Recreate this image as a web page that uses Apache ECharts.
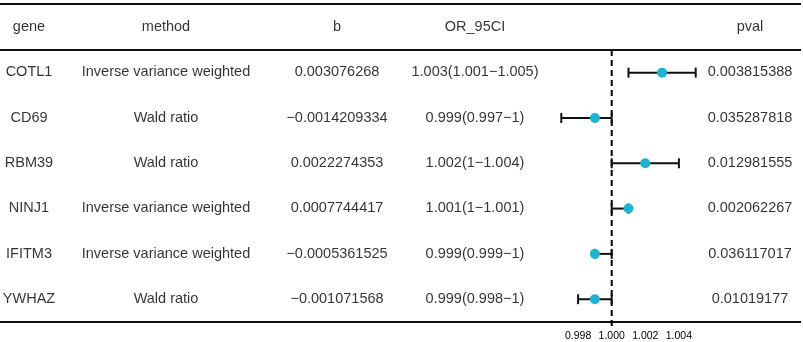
<!DOCTYPE html>
<html>
<head>
<meta charset="utf-8">
<script src="https://cdn.jsdelivr.net/npm/echarts@6/dist/echarts.min.js"></script>
<style>
  html, body { margin: 0; padding: 0; background: #fff; }
  #forest { width: 803px; height: 342px; }
</style>
</head>
<body>
<div id="forest"></div>
<script>
// table data
const genes = ["COTL1", "CD69", "RBM39", "NINJ1", "IFITM3", "YWHAZ"];
const methods = [
  "Inverse variance weighted", "Wald ratio", "Wald ratio",
  "Inverse variance weighted", "Inverse variance weighted", "Wald ratio"
];
const bValues = [
  "0.003076268", "\u22120.0014209334", "0.0022274353",
  "0.0007744417", "\u22120.0005361525", "\u22120.001071568"
];
const orLabels = [
  "1.003(1.001\u22121.005)", "0.999(0.997\u22121)", "1.002(1\u22121.004)",
  "1.001(1\u22121.001)", "0.999(0.999\u22121)", "0.999(0.998\u22121)"
];
const pvals = [
  "0.003815388", "0.035287818", "0.012981555",
  "0.002062267", "0.036117017", "0.01019177"
];
const headers = ["gene", "method", "b", "OR_95CI", "pval"];

// forest values
const orValues = [1.003, 0.999, 1.002, 1.001, 0.999, 0.999];
const lowerCI = [1.001, 0.997, 1.000, 1.000, 0.999, 0.998];
const upperCI = [1.005, 1.000, 1.004, 1.001, 1.000, 1.000];
const tickValues = [0.998, 1.0, 1.002, 1.004];

const colX = [29, 166, 337, 475, 750];
const font = "'Liberation Sans', Arial, sans-serif";
const ink = "#000";

const chart = echarts.init(document.getElementById("forest"));

// one scatter series per text column, labels only
const rowCats = ["header"].concat(genes);
const columns = [genes, methods, bValues, orLabels, pvals];
const textSeries = columns.map((col, c) => ({
  type: "scatter",
  xAxisIndex: 0,
  yAxisIndex: 0,
  symbolSize: 1,
  itemStyle: { color: "transparent" },
  silent: true,
  label: {
    show: true,
    position: "inside",
    color: ink,
    fontFamily: font,
    fontSize: 14.5,
    formatter: (p) => p.data[2],
  },
  data: [[colX[c], "header", headers[c]]].concat(
    col.map((t, i) => [colX[c], genes[i], t])
  ),
}));

const lineStyle = { stroke: "#111", lineWidth: 2 };

chart.setOption({
  animation: false,
  grid: [
    { left: 0, right: 0, top: 4, height: 318 },
    { left: 544.5, right: 90.5, top: 50, height: 280 },
  ],
  xAxis: [
    { gridIndex: 0, type: "value", min: 0, max: 803, show: false },
    {
      gridIndex: 1,
      type: "value",
      min: 0.996,
      max: 1.006,
      interval: 0.002,
      axisLine: { show: false },
      axisTick: { show: false },
      splitLine: { show: false },
      axisLabel: {
        customValues: tickValues,
        formatter: (v) => v.toFixed(3),
        color: ink,
        fontFamily: font,
        fontSize: 10.5,
        margin: 1,
      },
    },
  ],
  yAxis: [
    { gridIndex: 0, type: "category", data: rowCats, inverse: true, show: false },
    { gridIndex: 1, type: "value", min: -0.5, max: 5.68, inverse: true, show: false },
  ],
  graphic: [
    { type: "line", shape: { x1: 0, y1: 4, x2: 801, y2: 4 }, style: lineStyle },
    { type: "line", shape: { x1: 0, y1: 50, x2: 801, y2: 50 }, style: lineStyle },
    { type: "line", shape: { x1: 0, y1: 322, x2: 801, y2: 322 }, style: lineStyle },
  ],
  series: textSeries.concat([
    {
      // reference line at OR = 1
      type: "line",
      xAxisIndex: 1,
      yAxisIndex: 1,
      symbol: "none",
      silent: true,
      lineStyle: { color: "#000", width: 2, type: [6, 4] },
      data: [[1, -0.5], [1, 5.68]],
      z: 1,
    },
    {
      // confidence intervals
      type: "custom",
      xAxisIndex: 1,
      yAxisIndex: 1,
      silent: true,
      encode: { x: [0, 1], y: 2 },
      data: genes.map((g, i) => [lowerCI[i], upperCI[i], i]),
      renderItem: function (params, api) {
        const lo = api.coord([api.value(0), api.value(2)]);
        const hi = api.coord([api.value(1), api.value(2)]);
        const cap = 5;
        const st = { stroke: "#111", lineWidth: 2 };
        return {
          type: "group",
          children: [
            { type: "line", shape: { x1: lo[0], y1: lo[1], x2: hi[0], y2: hi[1] }, style: st },
            { type: "line", shape: { x1: lo[0], y1: lo[1] - cap, x2: lo[0], y2: lo[1] + cap }, style: st },
            { type: "line", shape: { x1: hi[0], y1: hi[1] - cap, x2: hi[0], y2: hi[1] + cap }, style: st },
          ],
        };
      },
      z: 2,
    },
    {
      type: "scatter",
      xAxisIndex: 1,
      yAxisIndex: 1,
      symbolSize: 10,
      itemStyle: { color: "#1DB4D2", opacity: 1 },
      data: orValues.map((v, i) => [v, i]),
      z: 3,
    },
  ]),
});
</script>
</body>
</html>
